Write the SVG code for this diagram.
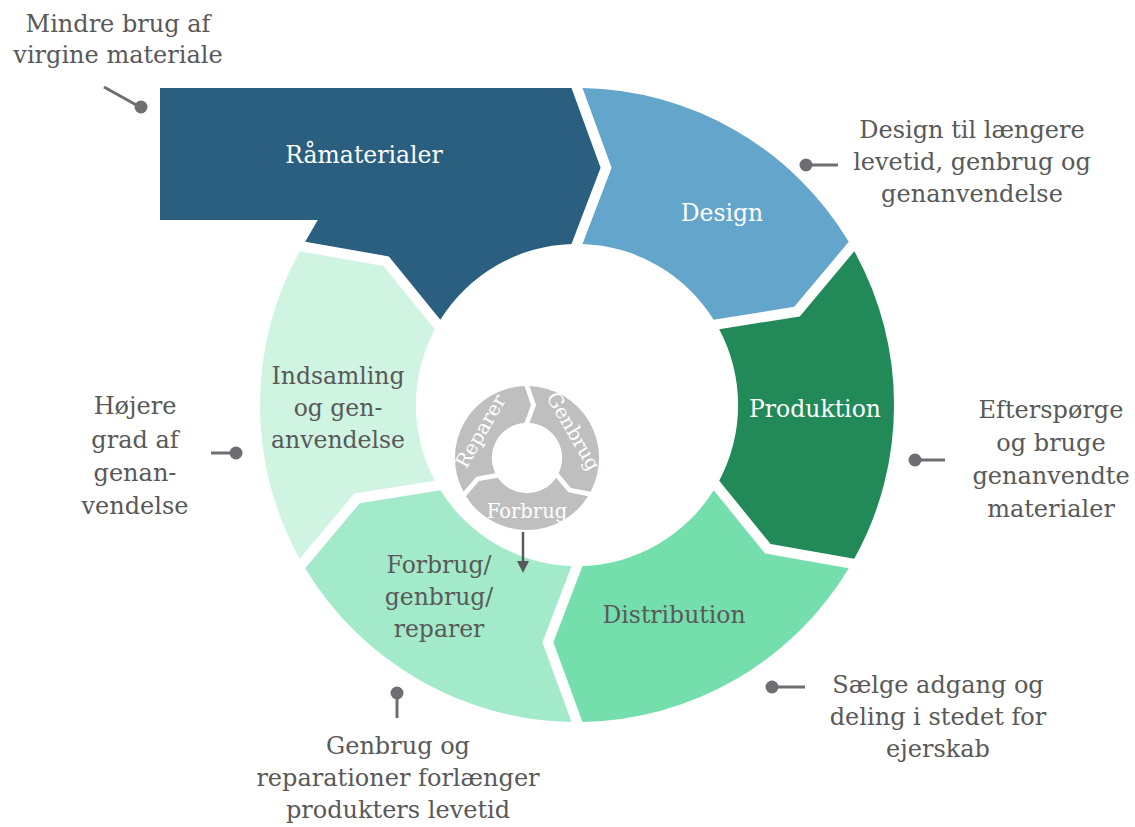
<svg xmlns="http://www.w3.org/2000/svg" width="1135" height="827" viewBox="0 0 1135 827">
<style>
  .lbl { font-family: "DejaVu Serif", "Liberation Serif", serif; font-size: 23.5px; text-anchor: middle; }
  .w { fill: #FFFFFF; }
  .g { fill: #595959; }
  .co { font-family: "DejaVu Serif", "Liberation Serif", serif; font-size: 24px; text-anchor: middle; fill: #595959; }
  .sm { font-family: "DejaVu Serif", "Liberation Serif", serif; font-size: 19.5px; text-anchor: middle; fill: #FFFFFF; dominant-baseline: central; }
  .lead { stroke: #6D6E71; stroke-width: 3; fill: none; }
  .dot { fill: #6D6E71; }
  .ring2 { fill: #BFBFBF; }
</style>
<rect width="1135" height="827" fill="#FFFFFF"/>

<g id="ramaterialer">
  <path d="M305.22 241.74 L317.77 220 L160 220 L160 88 L571.5 88 L600.6 167.8 L571.5 244 A161 161 0 0 0 440.32 319.74 L388.88 256.41 Z" fill="#2A5F80"/>
  <text class="lbl w" x="364" y="163">Råmaterialer</text>
</g>
<g id="design">
  <path d="M582.5 88 A317 317 0 0 1 848.78 241.74 L794.25 306.86 L713.68 319.74 A161 161 0 0 0 582.5 244 L611.6 167.8 Z" fill="#63A5CB"/>
  <text class="lbl w" x="722" y="221">Design</text>
</g>
<g id="produktion">
  <path d="M854.28 251.26 A317 317 0 0 1 854.28 558.74 L770.62 544.07 L719.18 480.74 A161 161 0 0 0 719.18 329.26 L799.75 316.38 Z" fill="#218A58"/>
  <text class="lbl w" x="815" y="417">Produktion</text>
</g>
<g id="distribution">
  <path d="M848.78 568.26 A317 317 0 0 1 582.5 722 L553.37 642.22 L582.5 566 A161 161 0 0 0 713.68 490.26 L765.12 553.59 Z" fill="#74DFAC"/>
  <text class="lbl g" x="674" y="623">Distribution</text>
</g>
<g id="forbrug">
  <path d="M571.5 722 A317 317 0 0 1 305.22 568.26 L359.75 503.14 L440.32 490.26 A161 161 0 0 0 571.5 566 L542.37 642.22 Z" fill="#A2EACA"/>
  <text class="lbl g" x="439" y="573">Forbrug/</text>
  <text class="lbl g" x="439" y="605">genbrug/</text>
  <text class="lbl g" x="439" y="637">reparer</text>
</g>
<g id="indsamling">
  <path d="M299.72 558.74 A317 317 0 0 1 299.72 251.26 L383.38 265.93 L434.82 329.26 A161 161 0 0 0 434.82 480.74 L354.25 493.62 Z" fill="#D0F4E2"/>
  <text class="lbl g" x="338" y="384">Indsamling</text>
  <text class="lbl g" x="338" y="416">og gen-</text>
  <text class="lbl g" x="338" y="448">anvendelse</text>
</g>

<g id="inner-cycle">
  <path class="ring2" d="M529.5 386 A72 72 0 0 1 590.6 491.84 L570.98 488.04 L558.56 473.34 A35 35 0 0 0 529.5 423 L536.02 404.9 Z"/>
  <path class="ring2" d="M588.1 496.17 A72 72 0 0 1 465.9 496.17 L479 481.07 L497.94 477.67 A35 35 0 0 0 556.06 477.67 L568.48 492.37 Z"/>
  <path class="ring2" d="M463.4 491.84 A72 72 0 0 1 524.5 386 L531.02 404.9 L524.5 423 A35 35 0 0 0 495.44 473.34 L476.5 476.74 Z"/>
  <text class="sm" transform="translate(573.3 431.3) rotate(60)" x="0" y="0">Genbrug</text>
  <text class="sm" transform="translate(527 511.5)" x="0" y="0">Forbrug</text>
  <text class="sm" transform="translate(480.7 431.3) rotate(-60)" x="0" y="0">Reparer</text>
</g>

<g id="connectors">
  <line x1="523" y1="532" x2="523" y2="562" stroke="#595959" stroke-width="2.5"/>
  <path d="M517 561 L529 561 L523 573 Z" fill="#595959"/>
  <line class="lead" x1="104" y1="87" x2="140" y2="107"/>
  <circle class="dot" cx="141" cy="107" r="6.5"/>
  <line class="lead" x1="806" y1="165" x2="838" y2="165"/>
  <circle class="dot" cx="806" cy="165" r="6.5"/>
  <line class="lead" x1="915" y1="460" x2="945" y2="460"/>
  <circle class="dot" cx="915" cy="460" r="6.5"/>
  <line class="lead" x1="772" y1="687" x2="805" y2="687"/>
  <circle class="dot" cx="772" cy="687" r="6.5"/>
  <line class="lead" x1="397" y1="693" x2="397" y2="718"/>
  <circle class="dot" cx="397" cy="693" r="6.5"/>
  <line class="lead" x1="211" y1="453" x2="236" y2="453"/>
  <circle class="dot" cx="236" cy="453" r="6.5"/>
</g>

<g id="callouts">
  <text class="co" x="118" y="32">Mindre brug af</text>
  <text class="co" x="118" y="63">virgine materiale</text>
  <text class="co" x="972" y="138">Design til længere</text>
  <text class="co" x="972" y="170">levetid, genbrug og</text>
  <text class="co" x="972" y="202">genanvendelse</text>
  <text class="co" x="1051" y="418">Efterspørge</text>
  <text class="co" x="1051" y="451">og bruge</text>
  <text class="co" x="1051" y="484">genanvendte</text>
  <text class="co" x="1051" y="517">materialer</text>
  <text class="co" x="938" y="693">Sælge adgang og</text>
  <text class="co" x="938" y="725">deling i stedet for</text>
  <text class="co" x="938" y="757">ejerskab</text>
  <text class="co" x="398" y="754">Genbrug og</text>
  <text class="co" x="398" y="786">reparationer forlænger</text>
  <text class="co" x="398" y="818">produkters levetid</text>
  <text class="co" x="135" y="414">Højere</text>
  <text class="co" x="135" y="448">grad af</text>
  <text class="co" x="135" y="481">genan-</text>
  <text class="co" x="135" y="514">vendelse</text>
</g>
</svg>
